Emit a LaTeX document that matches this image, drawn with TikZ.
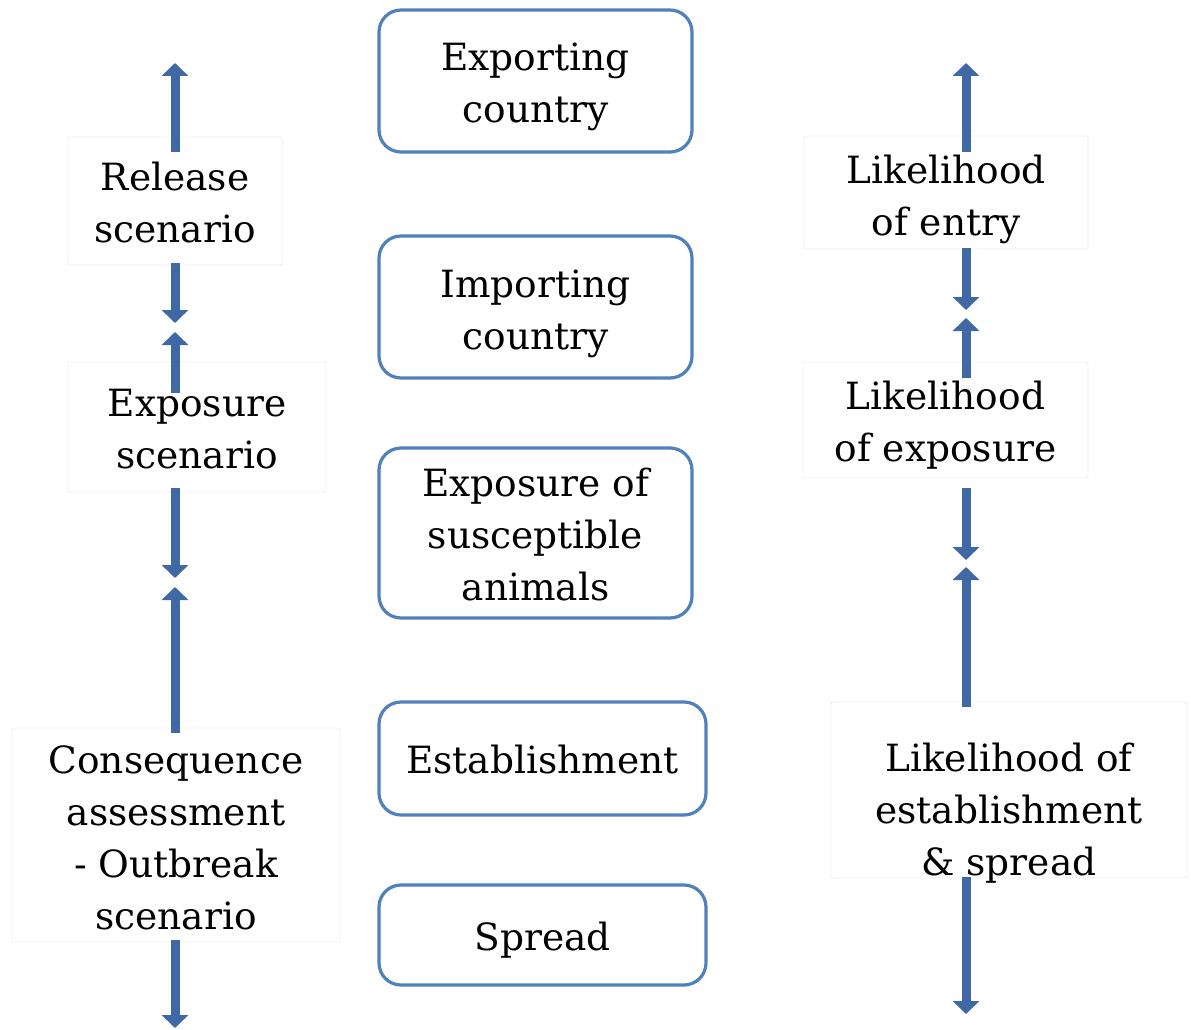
\documentclass[tikz,border=0pt]{standalone}
\usepackage{fontspec}
\setmainfont{DejaVu Serif}
\usetikzlibrary{arrows.meta, positioning, calc}
\definecolor{boxblue}{RGB}{79,129,189}
\definecolor{arrowblue}{RGB}{64,104,164}
\definecolor{faintgray}{RGB}{238,238,238}

\begin{document}
\begin{tikzpicture}[x=1pt, y=-1pt,
  every node/.style={font=\fontsize{37.5pt}{52pt}\selectfont, align=center, inner sep=0pt},
  stagebox/.style={draw=boxblue, line width=3.2pt, rounded corners=22pt},
  sidebox/.style={draw=faintgray, line width=0.8pt, rounded corners=2pt},
  blockarrow/.style={arrowblue, line width=9pt, -{Triangle[width=26pt, length=13pt]}}]
  \useasboundingbox[fill=white] (0,0) rectangle (1191,1030);

  % Stages in the middle
  \node[stagebox, minimum width=313pt, minimum height=142pt] (export) at (535.5,81) {};
  \node[stagebox, minimum width=313pt, minimum height=142pt] (import) at (535.5,307) {};
  \node[stagebox, minimum width=313pt, minimum height=170pt] (animals) at (535.5,533) {};
  \node[stagebox, minimum width=327pt, minimum height=113pt] (establish) at (542.5,758.5) {};
  \node[stagebox, minimum width=327pt, minimum height=100pt] (spread) at (542.5,935) {};
  \node (exporttext) at ($(export)+(0,6)$) {Exporting\\country};
  \node (importtext) at ($(import)+(0,7)$) {Importing\\country};
  \node (animalstext) at ($(animals)+(0,2)$) {Exposure of\\susceptible\\animals};
  \node (establishtext) at ($(establish)+(0,1)$) {Establishment};
  \node (spreadtext) at ($(spread)+(0,5)$) {Spread};

  % Scenarios on the left
  \node[sidebox, minimum width=214pt, minimum height=128pt] (release) at (175,201) {};
  \node[sidebox, minimum width=258pt, minimum height=130pt] (expscen) at (197,427) {};
  \node[sidebox, minimum width=328pt, minimum height=214pt] (conseq) at (176,835) {};
  \node (releasetext) at ($(release)+(0,2)$) {Release\\scenario};
  \node (expscentext) at ($(expscen)+(0,2)$) {Exposure\\scenario};
  \node (conseqtext) at ($(conseq)+(0,3)$) {Consequence\\assessment\\- Outbreak\\scenario};

  % Likelihoods on the right
  \node[sidebox, minimum width=284pt, minimum height=113pt] (entry) at (946,192.5) {};
  \node[sidebox, minimum width=285pt, minimum height=116pt] (explik) at (945.5,420) {};
  \node[sidebox, minimum width=356pt, minimum height=176pt] (estlik) at (1009,790) {};
  \node (entrytext) at ($(entry)+(0,7)$) {Likelihood\\of entry};
  \node (expliktext) at ($(explik)+(0,5)$) {Likelihood\\of exposure};
  \node (estliktext) at ($(estlik)+(0,23)$) {Likelihood of\\establishment\\\& spread};

  % Free ends of the arrows
  \coordinate (lt) at (175,63);
  \coordinate (lm1a) at (175,323);
  \coordinate (lm1b) at (175,332);
  \coordinate (lm2a) at (175,578);
  \coordinate (lm2b) at (175,587);
  \coordinate (lb) at (175,1028);
  \coordinate (rt) at (966,63);
  \coordinate (rm1a) at (966,310);
  \coordinate (rm1b) at (966,318);
  \coordinate (rm2a) at (966,560);
  \coordinate (rm2b) at (966,567);
  \coordinate (rb) at (966,1014);

  % Left arrows
  \draw[blockarrow] ($(release.north -| lt)+(0,15)$) -- (lt);
  \draw[blockarrow] ($(release.south -| lt)+(0,-2)$) -- (lm1a);
  \draw[blockarrow] ($(expscen.north -| lt)+(0,31)$) -- (lm1b);
  \draw[blockarrow] ($(expscen.south -| lt)+(0,-4)$) -- (lm2a);
  \draw[blockarrow] ($(conseq.north -| lt)+(0,5)$) -- (lm2b);
  \draw[blockarrow] ($(conseq.south -| lt)+(0,-2)$) -- (lb);

  % Right arrows
  \draw[blockarrow] ($(entry.north -| rt)+(0,16)$) -- (rt);
  \draw[blockarrow] ($(entry.south -| rt)+(0,-1)$) -- (rm1a);
  \draw[blockarrow] ($(explik.north -| rt)+(0,16)$) -- (rm1b);
  \draw[blockarrow] ($(explik.south -| rt)+(0,10)$) -- (rm2a);
  \draw[blockarrow] ($(estlik.north -| rt)+(0,5)$) -- (rm2b);
  \draw[blockarrow] ($(estlik.south -| rt)+(0,-1)$) -- (rb);
\end{tikzpicture}
\end{document}
